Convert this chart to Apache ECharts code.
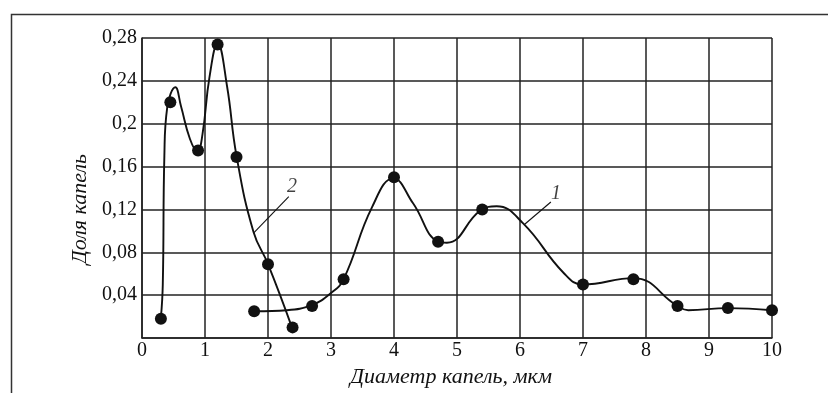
<!DOCTYPE html>
<html>
<head>
<meta charset="utf-8">
<script src="https://cdn.jsdelivr.net/npm/echarts@6/dist/echarts.min.js"></script>
<style>
  html, body { margin: 0; padding: 0; background: #fff; }
  #chart { width: 828px; height: 393px; }
</style>
</head>
<body>
<div id="chart"></div>
<script>
// markers (measured drops)
var drops1 = [[1.78, 0.025], [2.70, 0.030], [3.20, 0.055], [4.00, 0.150], [4.70, 0.090], [5.40, 0.120],
  [7.00, 0.050], [7.80, 0.055], [8.50, 0.030], [9.30, 0.028], [10.0, 0.026]]
var drops2 = [[0.30, 0.018], [0.45, 0.220], [0.89, 0.175], [1.20, 0.274], [1.50, 0.169], [2.00, 0.069], [2.39, 0.010]]

// fitted curves
var curve1 = [[1.80, 0.025], [2.30, 0.026], [2.70, 0.031], [3.00, 0.042], [3.20, 0.055], [3.65, 0.122],
  [3.99, 0.149], [4.30, 0.126], [4.70, 0.090], [4.84, 0.089], [5.37, 0.119], [5.63, 0.123], [6.05, 0.107],
  [6.69, 0.061], [7.00, 0.050], [7.80, 0.056], [8.50, 0.030], [8.67, 0.026], [9.30, 0.028], [10.0, 0.026]]
var curve2 = [[0.30, 0.019], [0.33, 0.050], [0.355, 0.170], [0.40, 0.215], [0.53, 0.234], [0.62, 0.216],
  [0.76, 0.186], [0.88, 0.174], [0.96, 0.190], [1.07, 0.243], [1.20, 0.275], [1.35, 0.235], [1.50, 0.170],
  [1.77, 0.099], [2.00, 0.069], [2.38, 0.010]]

// leader lines and curve numbers
var leader1 = [[6.49, 0.127], [6.07, 0.106]]
var leader2 = [[2.33, 0.132], [1.77, 0.098]]
var curveLabels = [{ name: '1', value: [6.57, 0.135] }, { name: '2', value: [2.38, 0.141] }]

var yTickLabels = ['', '0,04', '0,08', '0,12', '0,16', '0,2', '0,24', '0,28']
var xTickLabels = ['0', '1', '2', '3', '4', '5', '6', '7', '8', '9', '10']

var serif = '"Liberation Serif", "DejaVu Serif", serif'
var ink = '#111'

var chart = echarts.init(document.getElementById('chart'))

var lineSeries = function (data, width) {
  return {
    type: 'line', data: data, smooth: 0.45, symbol: 'none',
    lineStyle: { color: ink, width: width }, z: 3, silent: true
  }
}

var option = {
  animation: false,
  backgroundColor: '#fff',
  graphic: [{
    type: 'rect', left: 9, top: 12, silent: true,
    shape: { width: 900, height: 500 },
    style: { fill: 'none', stroke: '#333', lineWidth: 1.5 }
  }],
  grid: { left: 142, right: 56, top: 38, bottom: 45 },
  xAxis: {
    type: 'value', min: 0, max: 10, interval: 1,
    name: 'Диаметр капель, мкм', nameLocation: 'middle', nameGap: 24,
    nameTextStyle: { fontFamily: serif, fontStyle: 'italic', fontSize: 22, color: ink, padding: [0, 12, 0, 0] },
    axisLine: { lineStyle: { color: '#222', width: 1.5 } },
    axisTick: { show: false },
    axisLabel: {
      fontFamily: serif, fontSize: 20, color: ink, margin: 3,
      formatter: function (v) { return xTickLabels[Math.round(v)] }
    },
    splitLine: { show: true, lineStyle: { color: '#222', width: 1.5 } }
  },
  yAxis: {
    type: 'value', min: 0, max: 0.28, interval: 0.04,
    name: 'Доля капель', nameLocation: 'middle', nameGap: 47,
    nameTextStyle: { fontFamily: serif, fontStyle: 'italic', fontSize: 22, color: ink, padding: [0, 42, 0, 0] },
    axisLine: { show: true, lineStyle: { color: '#222', width: 1.5 } },
    axisTick: { show: false },
    axisLabel: {
      fontFamily: serif, fontSize: 20, color: ink, margin: 5,
      formatter: function (v) { return yTickLabels[Math.round(v / 0.04)] }
    },
    splitLine: { show: true, lineStyle: { color: '#222', width: 1.5 } }
  },
  series: [
    lineSeries(curve1, 1.9),
    lineSeries(curve2, 1.9),
    {
      type: 'line', data: leader1, symbol: 'none', silent: true,
      lineStyle: { color: ink, width: 1.1 }, z: 3
    },
    {
      type: 'line', data: leader2, symbol: 'none', silent: true,
      lineStyle: { color: ink, width: 1.1 }, z: 3
    },
    {
      type: 'scatter', data: drops1.concat(drops2), symbol: 'circle', symbolSize: 12,
      itemStyle: { color: '#111', opacity: 1 }, z: 4, silent: true
    },
    {
      type: 'scatter', data: curveLabels, symbolSize: 0, silent: true, z: 5,
      label: {
        show: true, position: 'inside', formatter: '{b}',
        fontFamily: serif, fontStyle: 'italic', fontSize: 20, color: ink
      }
    }
  ]
}

chart.setOption(option)
</script>
</body>
</html>
